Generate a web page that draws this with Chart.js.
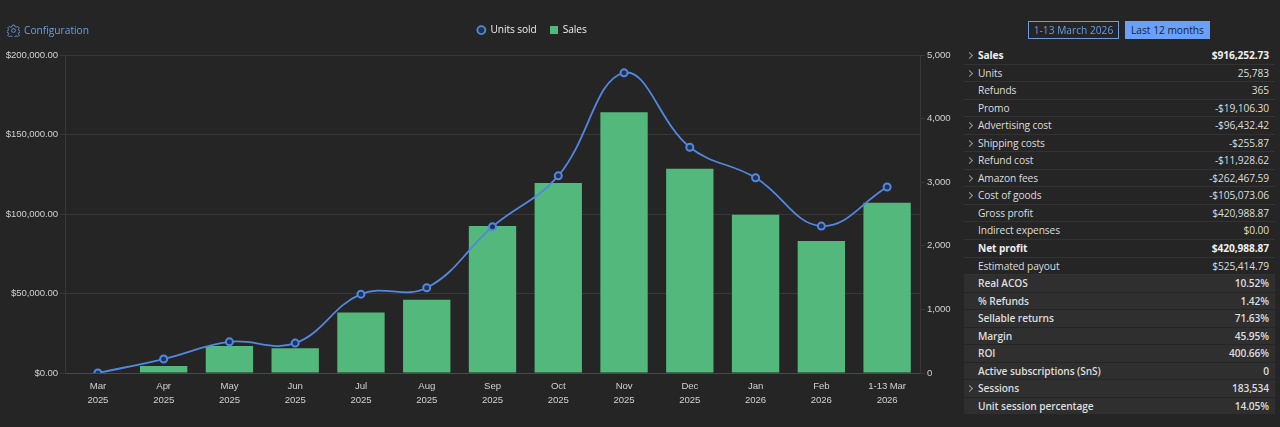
<!DOCTYPE html>
<html>
<head>
<meta charset="utf-8">
<script src="https://cdn.jsdelivr.net/npm/chart.js@4/dist/chart.umd.min.js"></script>
<style>
  html, body { margin: 0; height: 100%; background: #252525; overflow: hidden; }
  body { position: relative; width: 1280px; height: 427px; font-family: "Open Sans", sans-serif; font-size: 10.2px; letter-spacing: -0.1px; color: #ddd; }
  #wrap { position: absolute; left: 0; top: 0; width: 1064px; height: 427px; }
  #salesChart { display: block; }
  #config { position: absolute; left: 7px; top: 22px; height: 16px; display: flex; align-items: center; gap: 4px; color: #6c9de8; letter-spacing: 0; }
  .range { position: absolute; top: 21px; height: 18px; line-height: 18px; text-align: center; box-sizing: border-box; white-space: nowrap; letter-spacing: 0; }
  #r1 { left: 1028px; width: 91px; border: 1px solid #6c9de8; line-height: 16px; color: #6c9de8; }
  #r2 { left: 1125px; width: 85px; background: #69a0f8; color: #16233a; }
  #stats { position: absolute; left: 964px; top: 47px; width: 311px; }
  .row { position: relative; height: 17.55px; line-height: 17px; box-sizing: border-box; border-bottom: 1px solid #333; padding: 0 6px 0 14px; display: flex; justify-content: space-between; background: #252525; }
  .row.bold { font-weight: 700; color: #eee; }
  .row.alt { background: #2f2f2f; font-weight: 600; border-bottom-color: #252525; }
  .row.more::before { content: ""; position: absolute; left: 3px; top: 6px; width: 4px; height: 4px; border-top: 1px solid #999; border-right: 1px solid #999; transform: rotate(45deg); }
</style>
</head>
<body>
<div id="wrap"><canvas id="salesChart" width="1064" height="427"></canvas></div>
<div id="config">
  <svg width="13" height="13" viewBox="0 0 24 24" fill="none" stroke="#6c9de8" stroke-width="1.6"><circle cx="12" cy="12" r="3.5"/><path d="M10 2h4l.7 3 2.4 1 2.7-1.6 2.800 2.800-1.600 2.700 1 2.400 3 .7v2l-3 .7-1 2.400 1.600 2.700-2.800 2.800-2.700-1.600-2.400 1-.7 3h-4l-.7-3-2.400-1-2.700 1.600-2.800-2.800 1.600-2.700-1-2.400-3-.7v-2l3-.7 1-2.400-1.600-2.700 2.800-2.800 2.700 1.600 2.400-1z"/></svg>
  <span>Configuration</span>
</div>
<div class="range" id="r1">1-13 March 2026</div>
<div class="range" id="r2">Last 12 months</div>
<div id="stats"></div>

<script>
const months = ['Mar', 'Apr', 'May', 'Jun', 'Jul', 'Aug', 'Sep', 'Oct', 'Nov', 'Dec', 'Jan', 'Feb', '1-13 Mar'];
const years = ['2025', '2025', '2025', '2025', '2025', '2025', '2025', '2025', '2025', '2025', '2026', '2026', '2026'];
const unitsSold = [0, 220, 490, 470, 1240, 1340, 2300, 3100, 4720, 3550, 3070, 2310, 2925];
const sales = [0, 4400, 17000, 15500, 38000, 46000, 92500, 119500, 164000, 128500, 99500, 83000, 107000];

const statLabels = ['Sales', 'Units', 'Refunds', 'Promo', 'Advertising cost', 'Shipping costs', 'Refund cost', 'Amazon fees', 'Cost of goods', 'Gross profit', 'Indirect expenses', 'Net profit', 'Estimated payout', 'Real ACOS', '% Refunds', 'Sellable returns', 'Margin', 'ROI', 'Active subscriptions (SnS)', 'Sessions', 'Unit session percentage'];
const statValues = ['$916,252.73', '25,783', '365', '-$19,106.30', '-$96,432.42', '-$255.87', '-$11,928.62', '-$262,467.59', '-$105,073.06', '$420,988.87', '$0.00', '$420,988.87', '$525,414.79', '10.52%', '1.42%', '71.63%', '45.95%', '400.66%', '0', '183,534', '14.05%'];
const expandable = ['Sales', 'Units', 'Advertising cost', 'Shipping costs', 'Refund cost', 'Amazon fees', 'Cost of goods', 'Sessions'];
const boldRows = ['Sales', 'Net profit'];
const shadedFrom = 13;

const stats = document.getElementById('stats');
statLabels.forEach((label, i) => {
  const row = document.createElement('div');
  row.className = 'row';
  if (expandable.includes(label)) row.classList.add('more');
  if (boldRows.includes(label)) row.classList.add('bold');
  if (i >= shadedFrom) row.classList.add('alt');
  const name = document.createElement('span');
  name.textContent = label;
  const value = document.createElement('span');
  value.textContent = statValues[i];
  row.append(name, value);
  stats.appendChild(row);
});

const tickColor = '#d0d0d0';
const gridColor = '#383838';
const blue = '#5288e4';
const pointFill = '#20344f';
const green = '#53b87b';
const tickFont = { family: '"Liberation Sans", Arial, sans-serif', size: 9.6, lineHeight: 1.4 };

// square marker for the legend, chart.js rect point comes out too flat
const salesMarker = document.createElement('canvas');
salesMarker.width = 8;
salesMarker.height = 8;
const markerCtx = salesMarker.getContext('2d');
markerCtx.fillStyle = green;
markerCtx.fillRect(0, 0, 8, 8);

// keeps the legend block a fixed height so the plot starts at the right place
const legendHeight = {
  id: 'legendHeight',
  beforeInit(chart) {
    const fit = chart.legend.fit;
    chart.legend.fit = function () {
      fit.call(this);
      this.height = 43;
    };
  }
};

new Chart(document.getElementById('salesChart'), {
  type: 'bar',
  data: {
    labels: months.map((m, i) => [m, years[i]]),
    datasets: [
      {
        type: 'line',
        label: 'Units sold',
        data: unitsSold,
        yAxisID: 'y1',
        order: 0,
        borderColor: blue,
        borderWidth: 1.8,
        tension: 0.4,
        pointStyle: 'circle',
        pointRadius: 3.5,
        pointBorderWidth: 2,
        pointBackgroundColor: pointFill,
        pointBorderColor: blue
      },
      {
        type: 'bar',
        label: 'Sales',
        data: sales,
        yAxisID: 'y',
        order: 1,
        backgroundColor: green,
        categoryPercentage: 0.72,
        barPercentage: 1
      }
    ]
  },
  plugins: [legendHeight],
  options: {
    responsive: false,
    animation: false,
    layout: { padding: { top: 12, right: 0 } },
    plugins: {
      tooltip: { enabled: false },
      legend: {
        labels: {
          color: '#eee',
          font: { family: '"Open Sans", sans-serif', size: 10.2 },
          padding: 13,
          boxWidth: 8,
          boxHeight: 5.66,
          usePointStyle: true,
          generateLabels(chart) {
            const items = Chart.defaults.plugins.legend.labels.generateLabels(chart);
            items[0].pointStyle = 'circle';
            items[0].fillStyle = pointFill;
            items[0].strokeStyle = blue;
            items[0].lineWidth = 1.8;
            items[1].pointStyle = salesMarker;
            return items;
          }
        }
      }
    },
    scales: {
      x: {
        afterFit(axis) { axis.height = 54; },
        grid: { display: false, drawTicks: false },
        border: { color: '#4a4a4a' },
        ticks: { color: tickColor, font: tickFont, padding: 7, maxRotation: 0, autoSkip: false }
      },
      y: {
        position: 'left',
        min: 0,
        max: 200000,
        afterFit(axis) { axis.width = 65; },
        afterBuildTicks(axis) { axis.ticks = [0, 50000, 100000, 150000, 200000].map(value => ({ value })); },
        grid: { color: gridColor, tickLength: 5 },
        border: { color: gridColor },
        ticks: {
          color: tickColor,
          font: tickFont,
          padding: 2,
          callback: value => '$' + value.toLocaleString('en-US', { minimumFractionDigits: 2, maximumFractionDigits: 2 })
        }
      },
      y1: {
        position: 'right',
        min: 0,
        max: 5000,
        afterFit(axis) { axis.width = 144; },
        grid: { drawOnChartArea: false, color: gridColor, tickLength: 5 },
        border: { color: gridColor },
        ticks: {
          color: tickColor,
          font: tickFont,
          stepSize: 1000,
          padding: 2,
          callback: value => value.toLocaleString('en-US')
        }
      }
    }
  }
});
</script>
</body>
</html>
